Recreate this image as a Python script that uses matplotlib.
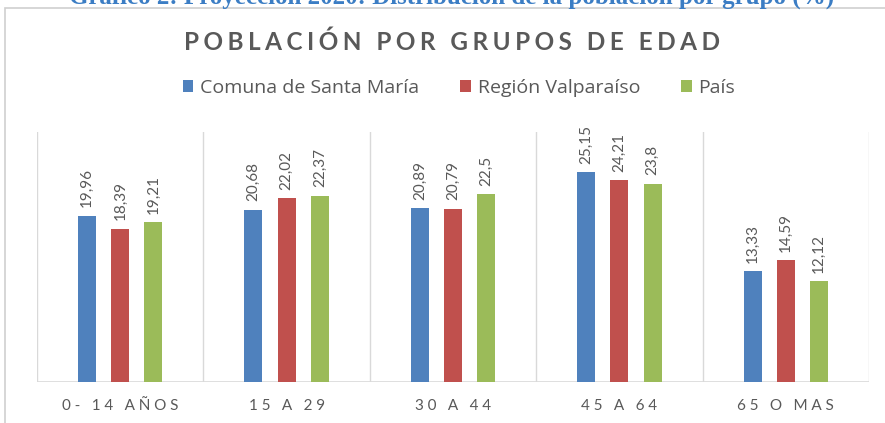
import numpy as np
import matplotlib
matplotlib.use("Agg")
import matplotlib.pyplot as plt
from matplotlib import patches

plt.rcParams['font.family'] = ['Lato', 'DejaVu Sans']

# datos del grafico
grupos = ["0- 14 AÑOS", "15 A 29", "30 A 44", "45 A 64", "65 O MAS"]
series = ["Comuna de Santa María", "Región Valparaíso", "País"]
comuna = [19.96, 20.68, 20.89, 25.15, 13.33]
region = [18.39, 22.02, 20.79, 24.21, 14.59]
pais = [19.21, 22.37, 22.5, 23.8, 12.12]
colores = ["#4F81BD", "#C0504D", "#9BBB59"]
gris = "#595959"


def espaciado(s, sep="\u200a"):
    # separa las letras como en el grafico original
    return sep.join(s)


fig = plt.figure(figsize=(8.85, 4.23), dpi=100)
ax = fig.add_axes([37 / 885, 41 / 423, 832 / 885, 250 / 423])

x = np.arange(len(grupos))
ancho = 0.108
paso = 0.2
for i, (vals, col) in enumerate(zip([comuna, region, pais], colores)):
    barras = ax.bar(x + (i - 1) * paso, vals, ancho, color=col, label=series[i])
    for b, v in zip(barras, vals):
        ax.annotate(("%g" % v).replace(".", ","), (b.get_x() + b.get_width() / 2, v),
                    xytext=(0, 6), textcoords="offset points", rotation=90,
                    ha="center", va="bottom", fontsize=11, color=gris)

ax.set_xlim(-0.5, len(grupos) - 0.5)
ax.set_ylim(0, 30)
for s in ax.spines.values():
    s.set_visible(False)
for b in np.arange(-0.5, len(grupos), 1.0):
    ax.axvline(b, color="#d9d9d9", lw=1, zorder=0)
ax.axhline(0, color="#d9d9d9", lw=1.2, zorder=0)
ax.set_yticks([])
ax.set_xticks(x)
ax.set_xticklabels([espaciado(g, "\u2009\u2009") for g in grupos], fontsize=11, color=gris)
ax.tick_params(axis="x", length=0, pad=12)

# marco del grafico
fig.patches.append(patches.Rectangle((5 / 885, -0.1), 1.2, 1.1 - 8 / 423, transform=fig.transFigure,
                                     fill=False, edgecolor="#cfcfcf", lw=1.2))

fig.text(452 / 885, 1 - 4 / 423, "Gráfico 2: Proyección 2020: Distribución de la población por grupo (%)",
         ha="center", va="baseline", fontsize=18, fontweight="bold", color="#3B7DC4",
         family="Liberation Serif")

fig.text(452 / 885, 1 - 42 / 423, espaciado("POBLACIÓN POR GRUPOS DE EDAD", "\u2009\u200a"),
         ha="center", va="center", fontsize=17.5, fontweight="bold", color=gris)

fig.legend(loc="center", bbox_to_anchor=(459 / 885, 1 - 88 / 423), ncol=3, frameon=False,
           prop={"family": "Open Sans", "size": 14}, handlelength=0.55, handleheight=0.55,
           handletextpad=0.35, columnspacing=2.1, labelcolor=gris)

fig.savefig("out.png", dpi=100)
